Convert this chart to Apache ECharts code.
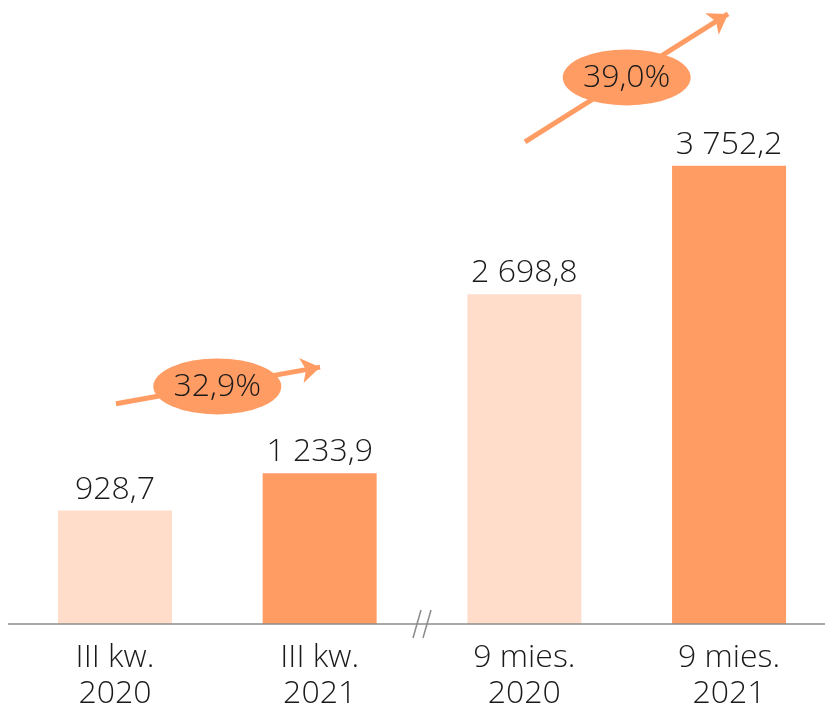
<!DOCTYPE html>
<html>
<head>
<meta charset="utf-8">
<script src="https://cdn.jsdelivr.net/npm/echarts@6/dist/echarts.min.js"></script>
<style>
  html, body { margin: 0; padding: 0; background: #ffffff; overflow: hidden; }
  #chart { width: 840px; height: 712px; }
</style>
</head>
<body>
<div id="chart"></div>
<script>
// Periods and revenue values (mln zł)
const categories = ['III kw.\n2020', 'III kw.\n2021', '9 mies.\n2020', '9 mies.\n2021'];
const values = [928.7, 1233.9, 2698.8, 3752.2];
const barColors = ['#FFDDCA', '#FF9C64', '#FFDDCA', '#FF9C64'];

// Year-on-year growth annotations: arrow from/to and badge position (x = category index)
const growthLabels = ['32,9%', '39,0%'];
const growthArrows = [
  [[0.005, 1803], [1.002, 2103]],
  [[2.003, 3947], [2.995, 4995]]
];
const growthBadges = [[0.5, 1945], [2.5, 4475]];

const FONT = '"Open Sans", "Noto Sans", sans-serif';
const ORANGE = '#FF9C64';
const TEXT = '#1a1a1a';

function fmt(v) {
  const parts = v.toFixed(1).split('.');
  const intPart = parts[0].replace(/\B(?=(\d{3})+(?!\d))/g, ' ');
  return intPart + ',' + parts[1];
}

const chart = echarts.init(document.getElementById('chart'), null, { renderer: 'canvas' });

const option = {
  animation: false,
  grid: { left: 12.6, width: 818.8, top: 13.3, height: 616, containLabel: false },
  xAxis: [
    {
      type: 'category',
      data: categories,
      axisLine: { show: false },
      axisTick: { show: false },
      axisLabel: {
        fontFamily: FONT,
        fontWeight: 300,
        fontSize: 32,
        lineHeight: 36,
        color: TEXT,
        margin: 16,
        interval: 0
      }
    },
    {
      type: 'value',
      min: -0.5,
      max: 3.5,
      show: false
    }
  ],
  yAxis: {
    type: 'value',
    min: 0,
    max: 5000,
    show: false,
    splitLine: { show: false }
  },
  series: [
    {
      type: 'bar',
      xAxisIndex: 0,
      barWidth: 114,
      data: values.map((v, i) => ({ value: v, itemStyle: { color: barColors[i] } })),
      label: {
        show: true,
        position: 'top',
        distance: 5,
        fontFamily: FONT,
        fontWeight: 300,
        fontSize: 32,
        color: TEXT,
        formatter: p => fmt(p.value)
      }
    },
    {
      type: 'lines',
      coordinateSystem: 'cartesian2d',
      xAxisIndex: 1,
      yAxisIndex: 0,
      z: 3,
      symbol: ['none', 'arrow'],
      symbolSize: [0, 19],
      lineStyle: { color: ORANGE, width: 5, opacity: 1 },
      data: growthArrows.map(c => ({ coords: c }))
    },
    {
      type: 'scatter',
      xAxisIndex: 1,
      yAxisIndex: 0,
      z: 4,
      symbol: 'path://M0 50 A100 50 0 1 1 200 50 A100 50 0 1 1 0 50 Z',
      symbolKeepAspect: false,
      symbolSize: [128, 56],
      itemStyle: { color: ORANGE, opacity: 1 },
      data: growthBadges.map((c, i) => ({ value: c, name: growthLabels[i] })),
      label: {
        show: true,
        position: 'inside',
        fontFamily: FONT,
        fontWeight: 300,
        fontSize: 32,
        color: TEXT,
        formatter: p => p.name
      }
    }
  ]
};

chart.setOption(option);

// Baseline and axis-break mark between the quarterly and 9-month groups
function drawBaseline() {
  const y0 = chart.convertToPixel({ yAxisIndex: 0 }, 0);
  const xb = chart.convertToPixel({ xAxisIndex: 1 }, 1.5);
  chart.setOption({
    graphic: [
      {
        type: 'line',
        z: 10,
        shape: { x1: 8, y1: y0, x2: 825, y2: y0 },
        style: { stroke: '#8c8c8c', lineWidth: 1.5 }
      },
      {
        type: 'line',
        z: 11,
        shape: { x1: xb - 9, y1: y0 + 14, x2: xb - 1, y2: y0 - 14 },
        style: { stroke: '#8c8c8c', lineWidth: 1.5 }
      },
      {
        type: 'line',
        z: 11,
        shape: { x1: xb + 1, y1: y0 + 14, x2: xb + 9, y2: y0 - 14 },
        style: { stroke: '#8c8c8c', lineWidth: 1.5 }
      }
    ]
  });
}
drawBaseline();
</script>
</body>
</html>
